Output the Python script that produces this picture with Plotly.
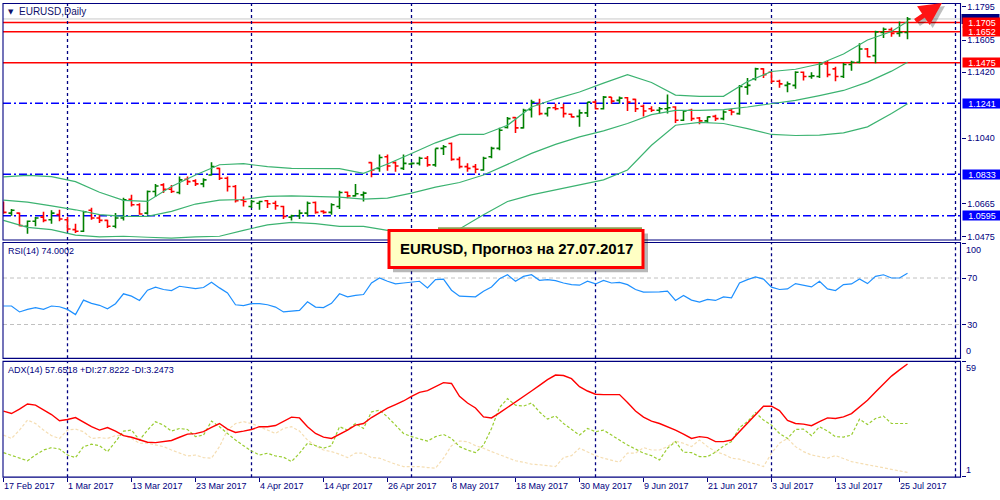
import plotly.graph_objects as go

# ---------------- data ----------------
date_labels = ["17 Feb 2017", "1 Mar 2017", "13 Mar 2017", "23 Mar 2017", "4 Apr 2017",
               "14 Apr 2017", "26 Apr 2017", "8 May 2017", "18 May 2017", "30 May 2017",
               "9 Jun 2017", "21 Jun 2017", "3 Jul 2017", "13 Jul 2017", "25 Jul 2017"]
label_bars = [0, 8, 16, 24, 32, 40, 48, 56, 64, 72, 80, 88, 96, 104, 112]
separator_bars = [8, 31, 51, 74, 96, 119]   # month starts (period separators)

opens = [1.0671, 1.0610, 1.0610, 1.0534, 1.0563, 1.0587, 1.0572, 1.0601, 1.0572, 1.0515,
         1.0506, 1.0626, 1.0582, 1.0568, 1.0534, 1.0582, 1.0690, 1.0658, 1.0610, 1.0734,
         1.0772, 1.0747, 1.0728, 1.0805, 1.0795, 1.0778, 1.0829, 1.0867, 1.0810, 1.0763,
         1.0686, 1.0648, 1.0667, 1.0681, 1.0667, 1.0648, 1.0587, 1.0595, 1.0610, 1.0671,
         1.0620, 1.0614, 1.0648, 1.0730, 1.0709, 1.0715, 1.0900, 1.0867, 1.0934, 1.0900,
         1.0867, 1.0892, 1.0896, 1.0925, 1.0887, 1.0982, 1.1010, 1.0919, 1.0877, 1.0877,
         1.0858, 1.0934, 1.0982, 1.1102, 1.1159, 1.1100, 1.1205, 1.1235, 1.1182, 1.1216,
         1.1216, 1.1178, 1.1166, 1.1186, 1.1248, 1.1210, 1.1277, 1.1258, 1.1273, 1.1264,
         1.1224, 1.1210, 1.1201, 1.1210, 1.1220, 1.1144, 1.1201, 1.1157, 1.1140, 1.1166,
         1.1153, 1.1201, 1.1182, 1.1334, 1.1382, 1.1439, 1.1420, 1.1368, 1.1344, 1.1344,
         1.1420, 1.1395, 1.1395, 1.1467, 1.1439, 1.1395, 1.1464, 1.1477, 1.1553, 1.1515,
         1.1648, 1.1665, 1.1643, 1.1648]
highs = [1.0677, 1.0633, 1.0614, 1.0568, 1.0587, 1.0618, 1.0626, 1.0629, 1.0587, 1.0549,
         1.0624, 1.0641, 1.0601, 1.0572, 1.0610, 1.0698, 1.0715, 1.0667, 1.0740, 1.0778,
         1.0782, 1.0772, 1.0820, 1.0820, 1.0805, 1.0810, 1.0902, 1.0871, 1.0820, 1.0772,
         1.0706, 1.0686, 1.0681, 1.0686, 1.0681, 1.0652, 1.0601, 1.0629, 1.0677, 1.0677,
         1.0626, 1.0667, 1.0738, 1.0734, 1.0778, 1.0734, 1.0902, 1.0947, 1.0947, 1.0906,
         1.0947, 1.0902, 1.0934, 1.0938, 1.0982, 1.1001, 1.1016, 1.0934, 1.0896, 1.0892,
         1.0934, 1.0991, 1.1100, 1.1163, 1.1163, 1.1210, 1.1262, 1.1267, 1.1216, 1.1239,
         1.1239, 1.1182, 1.1205, 1.1248, 1.1258, 1.1283, 1.1277, 1.1281, 1.1277, 1.1267,
         1.1235, 1.1224, 1.1220, 1.1292, 1.1224, 1.1201, 1.1210, 1.1163, 1.1166, 1.1176,
         1.1201, 1.1210, 1.1347, 1.1387, 1.1445, 1.1443, 1.1424, 1.1376, 1.1366, 1.1426,
         1.1424, 1.1420, 1.1477, 1.1486, 1.1452, 1.1473, 1.1486, 1.1586, 1.1559, 1.1658,
         1.1677, 1.1677, 1.1711, 1.1738]
lows = [1.0606, 1.0595, 1.0534, 1.0492, 1.0534, 1.0557, 1.0549, 1.0563, 1.0506, 1.0496,
        1.0502, 1.0572, 1.0553, 1.0525, 1.0523, 1.0568, 1.0648, 1.0601, 1.0601, 1.0702,
        1.0725, 1.0725, 1.0719, 1.0772, 1.0766, 1.0759, 1.0826, 1.0801, 1.0734, 1.0671,
        1.0648, 1.0639, 1.0629, 1.0639, 1.0629, 1.0576, 1.0568, 1.0576, 1.0591, 1.0606,
        1.0606, 1.0601, 1.0633, 1.0696, 1.0706, 1.0677, 1.0816, 1.0848, 1.0854, 1.0848,
        1.0858, 1.0887, 1.0883, 1.0877, 1.0877, 1.0944, 1.0911, 1.0867, 1.0848, 1.0839,
        1.0854, 1.0925, 1.0972, 1.1096, 1.1071, 1.1096, 1.1159, 1.1172, 1.1166, 1.1201,
        1.1159, 1.1159, 1.1106, 1.1163, 1.1205, 1.1205, 1.1239, 1.1239, 1.1197, 1.1191,
        1.1166, 1.1191, 1.1182, 1.1182, 1.1128, 1.1140, 1.1140, 1.1121, 1.1128, 1.1140,
        1.1144, 1.1172, 1.1176, 1.1290, 1.1372, 1.1387, 1.1357, 1.1330, 1.1305, 1.1325,
        1.1372, 1.1382, 1.1387, 1.1391, 1.1368, 1.1387, 1.1429, 1.1471, 1.1506, 1.1471,
        1.1616, 1.1624, 1.1624, 1.1610]
closes = [1.0614, 1.0626, 1.0538, 1.0563, 1.0582, 1.0568, 1.0610, 1.0576, 1.0519, 1.0506,
          1.0618, 1.0582, 1.0568, 1.0534, 1.0582, 1.0686, 1.0658, 1.0605, 1.0734, 1.0766,
          1.0747, 1.0734, 1.0801, 1.0791, 1.0778, 1.0801, 1.0877, 1.0810, 1.0763, 1.0681,
          1.0677, 1.0677, 1.0677, 1.0664, 1.0652, 1.0591, 1.0595, 1.0610, 1.0667, 1.0614,
          1.0614, 1.0658, 1.0728, 1.0709, 1.0721, 1.0725, 1.0858, 1.0930, 1.0881, 1.0881,
          1.0896, 1.0896, 1.0925, 1.0887, 1.0982, 1.0991, 1.0919, 1.0877, 1.0867, 1.0862,
          1.0925, 1.0982, 1.1086, 1.1153, 1.1100, 1.1201, 1.1248, 1.1182, 1.1216, 1.1210,
          1.1182, 1.1163, 1.1186, 1.1248, 1.1210, 1.1277, 1.1254, 1.1271, 1.1248, 1.1210,
          1.1197, 1.1201, 1.1210, 1.1216, 1.1144, 1.1197, 1.1153, 1.1140, 1.1163, 1.1153,
          1.1191, 1.1191, 1.1338, 1.1344, 1.1439, 1.1406, 1.1368, 1.1353, 1.1353, 1.1420,
          1.1395, 1.1399, 1.1467, 1.1406, 1.1395, 1.1464, 1.1477, 1.1553, 1.1509, 1.1652,
          1.1667, 1.1643, 1.1648, 1.1726]

bb_bars = [0, 3, 6, 9, 12, 15, 18, 21, 24, 27, 30, 33, 36, 39, 42, 45, 48, 51, 54, 57,
           60, 63, 66, 69, 72, 75, 78, 81, 84, 87, 90, 93, 96, 99, 102, 105, 108, 111, 113]
bb_upper = [1.0818, 1.0827, 1.0820, 1.0791, 1.0730, 1.0683, 1.0677, 1.0763, 1.0829, 1.0888,
            1.0894, 1.0877, 1.0867, 1.0867, 1.0866, 1.0839, 1.0892, 1.0953, 1.1014, 1.1062,
            1.1062, 1.1115, 1.1220, 1.1267, 1.1306, 1.1357, 1.1406, 1.1361, 1.1288, 1.1281,
            1.1281, 1.1366, 1.1424, 1.1437, 1.1467, 1.1525, 1.1605, 1.1654, 1.1711]
bb_middle = [1.0685, 1.0673, 1.0652, 1.0629, 1.0601, 1.0591, 1.0591, 1.0620, 1.0662, 1.0685,
             1.0688, 1.0706, 1.0709, 1.0707, 1.0702, 1.0690, 1.0696, 1.0725, 1.0759, 1.0786,
             1.0829, 1.0890, 1.0953, 1.1005, 1.1048, 1.1083, 1.1125, 1.1176, 1.1201, 1.1201,
             1.1205, 1.1220, 1.1239, 1.1258, 1.1285, 1.1315, 1.1363, 1.1426, 1.1477]
bb_lower = [1.0568, 1.0528, 1.0515, 1.0483, 1.0473, 1.0477, 1.0471, 1.0466, 1.0473, 1.0477,
            1.0511, 1.0542, 1.0557, 1.0549, 1.0534, 1.0534, 1.0511, 1.0506, 1.0506, 1.0519,
            1.0601, 1.0677, 1.0715, 1.0743, 1.0772, 1.0801, 1.0858, 1.1000, 1.1115, 1.1132,
            1.1125, 1.1096, 1.1062, 1.1056, 1.1058, 1.1071, 1.1106, 1.1182, 1.1239]

red_levels = [1.1705, 1.1652, 1.1475]
blue_levels = [1.1241, 1.0833, 1.0595]
bid_price = 1.1726
price_ticks = [1.1795, 1.1605, 1.1420, 1.1040, 1.0665, 1.0475]

rsi = [45.9, 45.9, 40.8, 43.0, 44.5, 43.0, 45.9, 45.3, 43.0, 38.5,
       51.0, 48.2, 46.5, 43.6, 47.9, 56.4, 54.4, 50.7, 59.5, 62.1,
       60.1, 59.2, 62.9, 62.1, 60.9, 61.8, 66.3, 61.5, 57.2, 47.0,
       46.2, 47.9, 47.9, 47.0, 45.0, 40.8, 41.3, 42.2, 49.6, 45.0,
       44.5, 48.2, 56.4, 53.8, 55.0, 55.8, 65.7, 70.0, 67.2, 64.9,
       65.7, 66.3, 67.2, 61.5, 68.6, 69.1, 59.5, 54.4, 54.4, 53.8,
       58.7, 62.3, 69.3, 72.8, 67.2, 71.4, 72.8, 68.0, 68.6, 67.7,
       65.7, 64.3, 63.8, 67.2, 64.9, 68.0, 65.7, 66.3, 64.3, 60.1,
       57.8, 57.8, 58.1, 58.7, 50.7, 55.0, 51.0, 49.3, 51.6, 50.7,
       53.8, 53.0, 65.7, 68.6, 70.9, 69.1, 62.1, 60.1, 60.6, 65.2,
       63.5, 62.3, 67.2, 60.6, 59.2, 64.3, 64.9, 69.1, 65.2, 71.4,
       72.8, 70.0, 70.0, 74.0]
rsi_levels = [70, 30]

adx = [34.0, 32.8, 35.0, 37.6, 37.0, 34.8, 32.3, 29.2, 29.8, 30.8,
       28.3, 26.2, 24.5, 25.8, 24.0, 21.7, 20.9, 19.7, 18.4, 18.2,
       18.8, 19.3, 20.9, 22.5, 22.7, 23.7, 25.8, 27.8, 25.0, 23.3,
       24.0, 24.8, 26.2, 26.2, 26.8, 28.7, 31.0, 30.6, 26.2, 22.8,
       21.0, 20.3, 22.3, 24.5, 27.0, 27.8, 30.8, 33.1, 35.5, 37.3,
       39.1, 41.4, 43.4, 44.3, 46.1, 48.3, 47.9, 41.4, 38.1, 35.6,
       31.1, 30.6, 33.1, 35.8, 38.3, 41.3, 44.1, 46.9, 49.8, 52.1,
       51.9, 50.3, 46.3, 44.1, 42.5, 42.3, 42.3, 42.3, 38.3, 34.1,
       31.0, 29.0, 27.8, 26.2, 24.5, 22.5, 20.3, 21.2, 20.7, 18.7,
       18.7, 19.5, 23.7, 28.3, 32.3, 36.5, 36.5, 34.3, 29.3, 27.8,
       27.5, 26.7, 28.7, 30.6, 30.3, 31.1, 32.8, 36.0, 39.5, 43.6,
       47.8, 51.6, 54.7, 57.65]
plus_di = [13.2, 11.7, 10.4, 9.1, 12.0, 14.5, 15.7, 15.0, 12.0, 10.7,
           16.2, 17.4, 16.7, 13.7, 18.7, 24.0, 24.5, 19.5, 24.5, 28.7,
           27.0, 24.0, 25.3, 24.8, 21.2, 22.0, 29.0, 26.2, 22.8, 19.5,
           16.7, 14.0, 12.0, 12.9, 11.5, 10.9, 8.7, 12.9, 17.9, 16.7,
           15.4, 16.7, 26.2, 24.5, 27.8, 25.3, 33.6, 34.5, 31.1, 27.0,
           22.8, 21.2, 20.0, 19.0, 21.2, 22.3, 20.3, 16.2, 14.5, 13.2,
           17.0, 25.3, 35.8, 40.3, 37.0, 36.5, 38.1, 33.6, 30.0, 31.6,
           27.8, 25.0, 22.0, 25.3, 23.7, 24.5, 22.0, 19.5, 17.0, 15.0,
           12.9, 11.7, 9.5, 15.4, 18.7, 13.4, 13.2, 11.2, 11.2, 13.4,
           16.5, 18.7, 25.8, 28.7, 33.3, 29.5, 27.0, 22.8, 20.3, 24.8,
           25.0, 21.7, 26.2, 24.0, 21.2, 21.0, 22.0, 30.0, 27.3, 30.3,
           31.5, 27.8, 27.8, 27.82]
minus_di = [22.0, 20.3, 24.5, 29.5, 27.8, 24.5, 21.7, 20.3, 24.5, 25.0,
            23.7, 20.3, 20.7, 20.3, 21.7, 22.0, 20.3, 17.9, 17.9, 17.0,
            16.2, 14.5, 12.9, 11.5, 12.0, 10.7, 10.4, 16.2, 24.5, 27.8,
            28.7, 27.8, 26.2, 24.5, 22.8, 25.3, 26.2, 24.0, 19.5, 16.7,
            14.5, 13.7, 12.4, 10.7, 12.9, 12.9, 10.7, 10.4, 8.7, 7.4,
            6.2, 6.2, 6.2, 5.7, 5.4, 10.4, 16.7, 19.0, 18.7, 16.7,
            15.4, 13.7, 12.2, 10.7, 9.1, 8.4, 7.4, 7.1, 6.7, 6.2,
            10.7, 11.7, 15.4, 13.4, 11.7, 10.4, 9.5, 8.4, 12.9, 12.9,
            15.7, 14.5, 14.5, 16.2, 19.0, 17.9, 16.2, 19.5, 16.2, 13.7,
            12.4, 10.4, 9.9, 8.7, 7.4, 6.2, 12.9, 17.9, 20.3, 16.2,
            13.7, 12.0, 11.2, 10.4, 11.7, 10.0, 8.7, 7.9, 7.1, 6.2,
            5.4, 4.6, 3.7, 3.25]

# ---------------- styling ----------------
NAVY = "#000080"
FONT = "Liberation Sans, Arial, sans-serif"
W, H = 1000, 500
X0P, X1P = 3 / W, 960.5 / W
main_dom = [1 - 240.5 / H, 1 - 2.5 / H]
rsi_dom = [1 - 359.5 / H, 1 - 243 / H]
adx_dom = [1 - 479 / H, 1 - 362.5 / H]

bars = list(range(len(closes)))

fig = go.Figure()
fig.add_trace(go.Ohlc(x=bars, open=opens, high=highs, low=lows, close=closes,
                      increasing=dict(line=dict(color="#008000", width=1.6)),
                      decreasing=dict(line=dict(color="#ff0000", width=1.6)),
                      tickwidth=0.38, xaxis="x", yaxis="y", hoverinfo="skip"))
for band in (bb_upper, bb_middle, bb_lower):
    fig.add_trace(go.Scatter(x=bb_bars, y=band, mode="lines",
                             line=dict(color="#3cb371", width=1.2),
                             xaxis="x", yaxis="y", hoverinfo="skip"))
fig.add_trace(go.Scatter(x=list(range(len(rsi))), y=rsi, mode="lines",
                         line=dict(color="#1e90ff", width=1.2), xaxis="x", yaxis="y2"))
fig.add_trace(go.Scatter(x=list(range(len(minus_di))), y=minus_di, mode="lines",
                         line=dict(color="#f5deb3", width=1.2, dash="3px,2px"),
                         xaxis="x", yaxis="y3"))
fig.add_trace(go.Scatter(x=list(range(len(plus_di))), y=plus_di, mode="lines",
                         line=dict(color="#9acd32", width=1.2, dash="3px,2px"),
                         xaxis="x", yaxis="y3"))
fig.add_trace(go.Scatter(x=list(range(len(adx))), y=adx, mode="lines",
                         line=dict(color="#ff0000", width=1.4), xaxis="x", yaxis="y3"))

shapes = []
# level lines
for lv in red_levels:
    shapes.append(dict(type="line", xref="paper", x0=X0P, x1=X1P, yref="y", y0=lv, y1=lv,
                       line=dict(color="#ff0000", width=1.5), layer="below"))
for lv in blue_levels:
    shapes.append(dict(type="line", xref="paper", x0=X0P, x1=X1P, yref="y", y0=lv, y1=lv,
                       line=dict(color="#0000ff", width=1.5, dash="8px,3px,2px,3px"),
                       layer="below"))
shapes.append(dict(type="line", xref="paper", x0=X0P, x1=X1P, yref="y", y0=bid_price,
                   y1=bid_price, line=dict(color="#c8c8c8", width=1), layer="below"))
for lv in rsi_levels:
    shapes.append(dict(type="line", xref="paper", x0=X0P, x1=X1P, yref="y2", y0=lv, y1=lv,
                       line=dict(color="#c0c0c0", width=1, dash="4px,3px"), layer="below"))
# period separators
for b in separator_bars:
    for ax in ("y", "y2", "y3"):
        shapes.append(dict(type="line", xref="x", x0=b, x1=b, yref=ax + " domain", y0=0, y1=1,
                           line=dict(color=NAVY, width=1.3, dash="3px,3px"), layer="below"))
# pane frames
for dom in (main_dom, rsi_dom, adx_dom):
    shapes.append(dict(type="rect", xref="paper", yref="paper", x0=X0P, x1=X1P,
                       y0=dom[0], y1=dom[1], line=dict(color=NAVY, width=1.1),
                       fillcolor="rgba(0,0,0,0)"))
# current price marker on the scale (mostly hidden behind the level labels)
shapes.append(dict(type="rect", xref="paper", yref="y", x0=961.5 / W, x1=999.5 / W,
                   y0=bid_price - 0.0029, y1=bid_price + 0.0029, line=dict(width=0),
                   fillcolor=NAVY))
# forecast label box
shapes.append(dict(type="rect", xref="paper", yref="paper", x0=438 / W, x1=642 / W,
                   y0=1 - 231 / H, y1=1 - 227.5 / H, line=dict(width=0), fillcolor="#8e9e52"))
shapes.append(dict(type="rect", xref="paper", yref="paper", x0=393 / W, x1=648 / W,
                   y0=1 - 273 / H, y1=1 - 234 / H, line=dict(width=0),
                   fillcolor="rgba(0,0,0,0.28)"))
shapes.append(dict(type="rect", xref="paper", yref="paper", x0=389 / W, x1=643 / W,
                   y0=1 - 268 / H, y1=1 - 231 / H, line=dict(color="#ff0000", width=3),
                   fillcolor="#ffffc4"))

ann = []
for lv in red_levels:
    ann.append(dict(xref="paper", yref="y", x=961.5 / W, y=lv, xanchor="left",
                    text=f"{lv:.4f}", showarrow=False, bgcolor="#ff0000", width=38,
                    height=9, borderpad=0, font=dict(family=FONT, size=9, color="white")))
for lv in blue_levels:
    ann.append(dict(xref="paper", yref="y", x=961.5 / W, y=lv, xanchor="left",
                    text=f"{lv:.4f}", showarrow=False, bgcolor="#0000ff", width=38,
                    height=9, borderpad=0, font=dict(family=FONT, size=9, color="white")))
# indicator scale end labels
for txt, yref, yv, anc in (("100", "y2", 100.5, "top"), ("0", "y2", 0.9, "bottom"),
                           ("59", "y3", 59.0, "top"), ("1", "y3", 0.9, "bottom")):
    ann.append(dict(xref="paper", yref=yref, x=964 / W, y=yv, xanchor="left", yanchor=anc,
                    text=txt, showarrow=False, font=dict(family=FONT, size=9, color=NAVY)))
# titles
ann.append(dict(xref="paper", yref="paper", x=6 / W, y=1 - 11 / H, xanchor="left",
                yanchor="middle", text="▼", showarrow=False,
                font=dict(family="DejaVu Sans", size=7, color="#10106a")))
ann.append(dict(xref="paper", yref="paper", x=17 / W, y=1 - 11 / H, xanchor="left",
                yanchor="middle", text="EURUSD,Daily", showarrow=False,
                font=dict(family=FONT, size=10, color="#10106a")))
ann.append(dict(xref="paper", yref="paper", x=6 / W, y=1 - 251.5 / H, xanchor="left",
                yanchor="middle", text=f"RSI(14) {rsi[-1] + 0.0002:.4f}", showarrow=False,
                font=dict(family=FONT, size=9, color=NAVY)))
ann.append(dict(xref="paper", yref="paper", x=6 / W, y=1 - 371.5 / H, xanchor="left",
                yanchor="middle",
                text="ADX(14) 57.6518 +DI:27.8222 -DI:3.2473", showarrow=False,
                font=dict(family=FONT, size=9, color=NAVY)))
# forecast text
ann.append(dict(xref="paper", yref="paper", x=516 / W, y=1 - 248.5 / H, xanchor="center",
                yanchor="middle", text="<b>EURUSD, Прогноз на 27.07.2017</b>",
                showarrow=False, font=dict(family=FONT, size=15, color="black")))
# arrow (shadow + arrow)
ann.append(dict(xref="paper", yref="paper", x=945 / W, y=1 - 5 / H, ax=-28, ay=19,
                text="", showarrow=True, arrowhead=2, arrowsize=0.9, arrowwidth=5,
                arrowcolor="rgba(0,0,0,0.25)"))
ann.append(dict(xref="paper", yref="paper", x=942 / W, y=1 - 2 / H, ax=-28, ay=19,
                text="", showarrow=True, arrowhead=2, arrowsize=0.9, arrowwidth=5,
                arrowcolor="#ff1414"))

yax_common = dict(side="right", anchor="x", showgrid=False, zeroline=False, showline=False,
                  ticks="outside", ticklen=4, tickcolor=NAVY,
                  tickfont=dict(family=FONT, size=9, color=NAVY), fixedrange=True)

fig.update_layout(
    width=W, height=H, margin=dict(l=0, r=0, t=0, b=0),
    paper_bgcolor="white", plot_bgcolor="white", showlegend=False,
    xaxis=dict(domain=[X0P, X1P], range=[-0.0625, 119.625], anchor="y3",
               rangeslider=dict(visible=False), showgrid=False, zeroline=False,
               showline=False, tickvals=label_bars, ticktext=date_labels,
               ticks="outside", ticklen=4, tickcolor=NAVY,
               ticklabelposition="outside right",
               tickfont=dict(family=FONT, size=9, color=NAVY)),
    yaxis=dict(domain=main_dom, range=[1.0455, 1.1815], tickvals=price_ticks,
               ticktext=[f"{v:.4f}" for v in price_ticks], **yax_common),
    yaxis2=dict(domain=rsi_dom, range=[0.9, 100.5], tickvals=[100, 70, 30, 0],
                ticktext=["", "70", "30", ""], **yax_common),
    yaxis3=dict(domain=adx_dom, range=[0.9, 59.0], tickvals=[59, 1],
                ticktext=["", ""], **yax_common),
    shapes=shapes, annotations=ann,
)

fig.write_html("out.html")
